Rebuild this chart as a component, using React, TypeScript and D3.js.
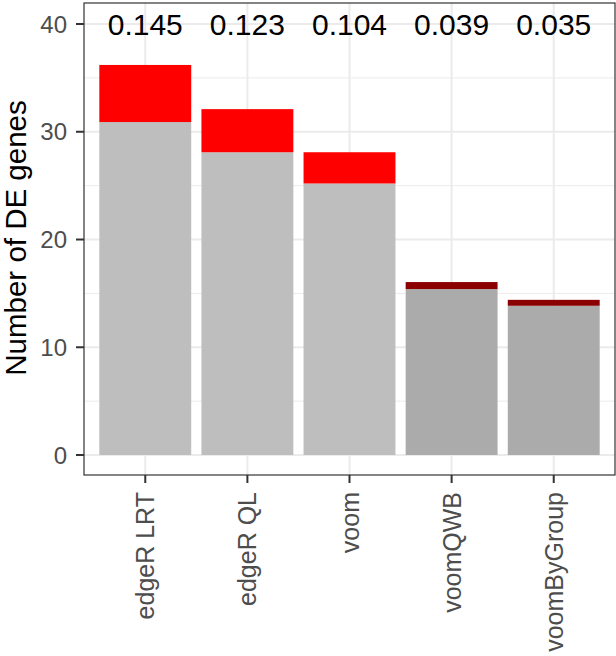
import React from "react";
import * as d3 from "d3";

const categories = ["edgeR LRT", "edgeR QL", "voom", "voomQWB", "voomByGroup"];
const baseValues = [30.9, 28.1, 25.2, 15.4, 13.85];
const totalValues = [36.2, 32.1, 28.1, 16.05, 14.4];
const fdrLabels = ["0.145", "0.123", "0.104", "0.039", "0.035"];
const baseColors = ["#BEBEBE", "#BEBEBE", "#BEBEBE", "#ABABAB", "#ABABAB"];
const topColors = ["#FF0000", "#FF0000", "#FF0000", "#8B0000", "#8B0000"];
const yMajor = [0, 10, 20, 30, 40];
const yMinor = [5, 15, 25, 35];

const W = 616;
const H = 656;
const P = { left: 84, right: 615, top: 3, bottom: 475 };
const FONT = "'Liberation Sans', Arial, Helvetica, sans-serif";

export default function App() {
  const x = d3.scaleLinear().domain([0.4, categories.length + 0.6]).range([P.left, P.right]);
  const y = d3.scaleLinear().domain([-1.856, 41.95]).range([P.bottom, P.top]);
  const bw = x(0.9) - x(0);
  return (
    <svg width={W} height={H} style={{ position: "absolute", left: 0, top: 0 }}>
      <rect x={0} y={0} width={W} height={H} fill="#fff" />
      {yMinor.map((v) => (
        <line key={"mi" + v} x1={P.left} x2={P.right} y1={y(v)} y2={y(v)} stroke="#EBEBEB" strokeWidth={1} />
      ))}
      {yMajor.map((v) => (
        <line key={"ma" + v} x1={P.left} x2={P.right} y1={y(v)} y2={y(v)} stroke="#EBEBEB" strokeWidth={2} />
      ))}
      {categories.map((c, i) => (
        <line key={"vx" + c} x1={x(i + 1)} x2={x(i + 1)} y1={P.top} y2={P.bottom} stroke="#EBEBEB" strokeWidth={2} />
      ))}
      {categories.map((c, i) => (
        <g key={"bar" + c}>
          <rect x={x(i + 1) - bw / 2} width={bw} y={y(baseValues[i])} height={y(0) - y(baseValues[i])} fill={baseColors[i]} />
          <rect x={x(i + 1) - bw / 2} width={bw} y={y(totalValues[i])} height={y(baseValues[i]) - y(totalValues[i])} fill={topColors[i]} />
          <text x={x(i + 1)} y={y(40) + 11} textAnchor="middle" fontFamily={FONT} fontSize={30} fill="#000">
            {fdrLabels[i]}
          </text>
        </g>
      ))}
      <rect x={P.left} y={P.top} width={P.right - P.left} height={P.bottom - P.top} fill="none" stroke="#333333" strokeWidth={1.2} />
      {yMajor.map((v) => (
        <g key={"yt" + v}>
          <line x1={P.left - 8} x2={P.left} y1={y(v)} y2={y(v)} stroke="#333333" strokeWidth={2} />
          <text x={P.left - 17} y={y(v) + 8.5} textAnchor="end" fontFamily={FONT} fontSize={24} fill="#4D4D4D">
            {v}
          </text>
        </g>
      ))}
      {categories.map((c, i) => (
        <g key={"xt" + c}>
          <line x1={x(i + 1)} x2={x(i + 1)} y1={P.bottom} y2={P.bottom + 8} stroke="#333333" strokeWidth={2} />
          <text
            transform={`translate(${x(i + 1) + 9},${P.bottom + 17}) rotate(-90)`}
            textAnchor="end"
            fontFamily={FONT}
            fontSize={25}
            fill="#4D4D4D"
          >
            {c}
          </text>
        </g>
      ))}
      <text
        transform={`translate(26,238) rotate(-90)`}
        textAnchor="middle"
        fontFamily={FONT}
        fontSize={29.5}
        fill="#000"
      >
        Number of DE genes
      </text>
    </svg>
  );
}
